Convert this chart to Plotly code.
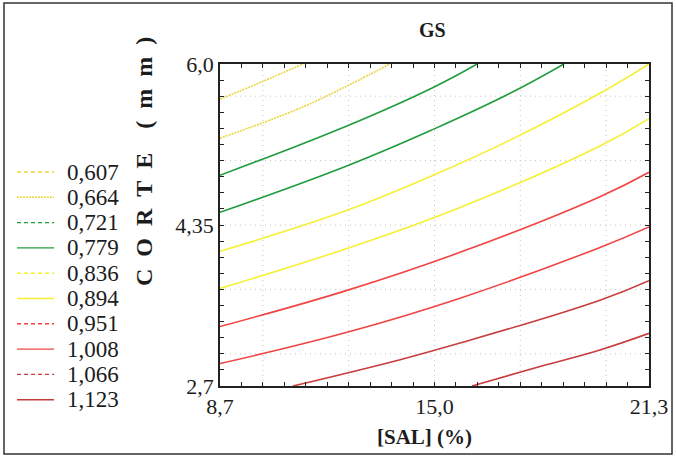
import plotly.graph_objects as go

# ---- axes -------------------------------------------------------------
SAL_RANGE = [8.7, 21.3]
CORTE_RANGE = [2.7, 6.0]
SAL_LABEL_VALS = [8.7, 15.0, 21.3]
SAL_LABEL_TEXT = ["8,7", "15,0", "21,3"]
CORTE_LABEL_VALS = [2.7, 4.35, 6.0]
CORTE_LABEL_TEXT = ["2,7", "4,35", "6,0"]
N_TICK_STEPS = 20
GRID_SAL = [9.96, 12.48, 15.0, 17.52, 20.04]
GRID_CORTE = [3.03, 3.69, 4.35, 5.01, 5.67]

# ---- iso-lines of GS (SAL %, CORTE mm) -----------------------------------
LEVEL_LABELS = ["0,607", "0,664", "0,721", "0,779", "0,836",
                "0,894", "0,951", "1,008", "1,066", "1,123"]

SAL_0607 = [8.7, 9.88, 11.14]
CORTE_0607 = [5.64, 5.81, 6.0]
SAL_0664 = [8.7, 11.0, 12.46, 13.69]
CORTE_0664 = [5.24, 5.54, 5.78, 6.0]
SAL_0721 = [8.7, 12.46, 14.96, 16.25]
CORTE_0721 = [4.86, 5.37, 5.76, 6.0]
SAL_0779 = [8.7, 12.46, 14.96, 17.22, 18.80]
CORTE_0779 = [4.48, 4.96, 5.33, 5.70, 6.0]
SAL_0836 = [8.7, 12.43, 14.96, 17.22, 19.86, 21.3]
CORTE_0836 = [4.08, 4.50, 4.86, 5.22, 5.70, 6.0]
SAL_0894 = [8.7, 12.43, 15.75, 19.86, 21.3]
CORTE_0894 = [3.70, 4.11, 4.53, 5.16, 5.44]
SAL_0951 = [8.7, 12.43, 15.75, 19.86, 21.3]
CORTE_0951 = [3.31, 3.68, 4.07, 4.64, 4.89]
SAL_1008 = [8.7, 12.43, 15.75, 19.86, 21.3]
CORTE_1008 = [2.93, 3.25, 3.60, 4.12, 4.33]
SAL_1066 = [10.84, 13.99, 15.75, 19.86, 21.3]
CORTE_1066 = [2.7, 2.97, 3.14, 3.58, 3.78]
SAL_1123 = [16.10, 18.10, 19.86, 21.3]
CORTE_1123 = [2.7, 2.90, 3.07, 3.24]

SAL_LINES = [SAL_0607, SAL_0664, SAL_0721, SAL_0779, SAL_0836,
             SAL_0894, SAL_0951, SAL_1008, SAL_1066, SAL_1123]
CORTE_LINES = [CORTE_0607, CORTE_0664, CORTE_0721, CORTE_0779, CORTE_0836,
               CORTE_0894, CORTE_0951, CORTE_1008, CORTE_1066, CORTE_1123]

GOLD = "#e8d83a"
GREEN = "#1f9c3e"
YELLOW = "#f5f032"
RED = "#f04444"
DARK_RED = "#c83c3c"

LINE_COLORS = [GOLD, GOLD, GREEN, GREEN, YELLOW, YELLOW, RED, RED, DARK_RED, DARK_RED]
PLOT_DASH = ["2px,1px", "2px,1px", "solid", "solid", "solid", "solid",
             "solid", "solid", "solid", "solid"]
KEY_DASH = ["4px,3px", "2px,1px", "4px,3px", "solid", "4px,3px", "solid",
            "4px,3px", "solid", "4px,3px", "solid"]

FONT = "Liberation Serif, Times New Roman, serif"
INK = "#1c1c1c"

fig = go.Figure()

for sal, corte, color, dash in zip(SAL_LINES, CORTE_LINES, LINE_COLORS, PLOT_DASH):
    fig.add_trace(go.Scatter(
        x=sal, y=corte, mode="lines", showlegend=False, hoverinfo="skip",
        line=dict(color=color, width=1.6, dash=dash, shape="spline", smoothing=1.2),
    ))

# ---- pixel frame of the plotting area ----------------------------------
W, H = 676, 458
L, R, T, B = 220, 27, 64, 72
PW, PH = W - L - R, H - T - B


def px_x(px):
    return (px - L) / PW


def px_y(py):
    return (H - B - py) / PH


# tick positions: every 1/20 of the range, labels at ends and middle
sal_step = (SAL_RANGE[1] - SAL_RANGE[0]) / N_TICK_STEPS
corte_step = (CORTE_RANGE[1] - CORTE_RANGE[0]) / N_TICK_STEPS
sal_ticks = [SAL_RANGE[0] + i * sal_step for i in range(N_TICK_STEPS + 1)]
corte_ticks = [CORTE_RANGE[0] + i * corte_step for i in range(N_TICK_STEPS + 1)]
sal_text = [""] * len(sal_ticks)
corte_text = [""] * len(corte_ticks)
for v, t in zip(SAL_LABEL_VALS, SAL_LABEL_TEXT):
    sal_text[min(range(len(sal_ticks)), key=lambda i: abs(sal_ticks[i] - v))] = t
for v, t in zip(CORTE_LABEL_VALS, CORTE_LABEL_TEXT):
    corte_text[min(range(len(corte_ticks)), key=lambda i: abs(corte_ticks[i] - v))] = t

axis_common = dict(
    showline=True, linecolor="#222", linewidth=1.5, mirror="ticks",
    ticks="inside", ticklen=4, tickwidth=1, tickcolor="#222",
    showgrid=False, zeroline=False, tickmode="array",
    tickfont=dict(family=FONT, size=22, color=INK),
)

fig.update_xaxes(range=SAL_RANGE, tickvals=sal_ticks, ticktext=sal_text, **axis_common)
fig.update_yaxes(range=CORTE_RANGE, tickvals=corte_ticks, ticktext=corte_text, **axis_common)

shapes = []
grid_line = dict(color="#c4c4c4", width=1, dash="1px,4px")
for g in GRID_SAL:
    shapes.append(dict(type="line", xref="x", yref="paper", x0=g, x1=g, y0=0, y1=1,
                       line=grid_line, layer="below"))
for g in GRID_CORTE:
    shapes.append(dict(type="line", xref="paper", yref="y", x0=0, x1=1, y0=g, y1=g,
                       line=grid_line, layer="below"))

# outer frame around the whole figure
shapes.append(dict(type="rect", xref="paper", yref="paper",
                   x0=px_x(4), x1=px_x(672), y0=px_y(454), y1=px_y(3),
                   line=dict(color="#333", width=1.5)))

# key: line samples and level labels
annotations = []
KEY_TOP, KEY_STEP = 172, 25.3
for i, (lab, color, dash) in enumerate(zip(LEVEL_LABELS, LINE_COLORS, KEY_DASH)):
    yy = px_y(KEY_TOP + i * KEY_STEP)
    shapes.append(dict(type="line", xref="paper", yref="paper",
                       x0=px_x(17), x1=px_x(54), y0=yy, y1=yy,
                       line=dict(color=color, width=1.4, dash=dash)))
    annotations.append(dict(text=lab, xref="paper", yref="paper", x=px_x(65), y=yy,
                            xanchor="left", yanchor="middle", showarrow=False,
                            font=dict(family=FONT, size=23, color=INK)))

annotations.append(dict(text="<b>GS</b>", xref="paper", yref="paper",
                        x=px_x(432), y=px_y(30), showarrow=False,
                        xanchor="center", yanchor="middle",
                        font=dict(family=FONT, size=20, color=INK)))
annotations.append(dict(text="<b>[SAL] (%)</b>", xref="paper", yref="paper",
                        x=px_x(424), y=px_y(437), showarrow=False,
                        xanchor="center", yanchor="middle",
                        font=dict(family=FONT, size=21, color=INK)))
annotations.append(dict(text="<b>C\u00a0\u00a0O\u00a0\u00a0R\u00a0\u00a0T\u00a0\u00a0E\u00a0\u00a0\u00a0\u00a0(\u00a0\u00a0m\u00a0\u00a0m\u00a0\u00a0)</b>",
                        xref="paper", yref="paper", textangle=-90,
                        x=px_x(144), y=px_y(162), showarrow=False,
                        xanchor="center", yanchor="middle",
                        font=dict(family=FONT, size=24, color=INK)))

fig.update_layout(
    width=W, height=H,
    margin=dict(l=L, r=R, t=T, b=B, autoexpand=False),
    paper_bgcolor="white", plot_bgcolor="white",
    showlegend=False,
    shapes=shapes, annotations=annotations,
)

fig.write_html("out.html")
